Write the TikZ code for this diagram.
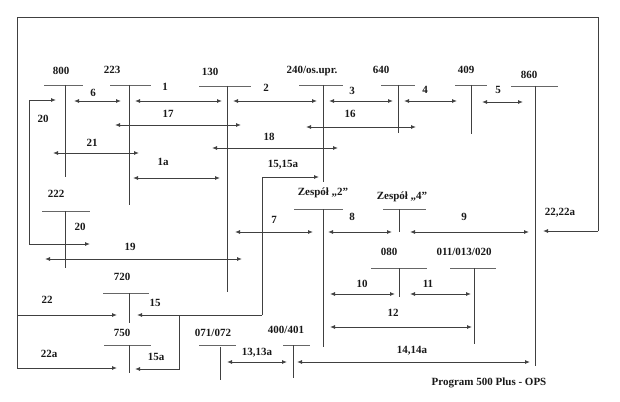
\documentclass[tikz,border=0pt]{standalone}
\usepackage{fontspec}
\setmainfont{Liberation Serif}
\usetikzlibrary{arrows.meta}
\begin{document}
\begin{tikzpicture}[x=1pt,y=-1pt,
  lbl/.style={font=\bfseries\fontsize{11}{12}\selectfont, inner sep=0pt, text=black!90},
  ln/.style={draw=black!75, line width=0.9pt},
  barln/.style={draw=black!60, line width=0.9pt},
  bi/.style={ln, {Latex[length=5pt,width=4pt]}-{Latex[length=5pt,width=4pt]}},
  tip/.style={ln, -{Latex[length=5pt,width=4pt]}}]
\useasboundingbox (0,0) rectangle (620,401);
\fill[white] (0,0) rectangle (620,401);

% ---------- outer frame with arrows 22, 22a, 22,22a
\coordinate (fTL) at (17,17);
\coordinate (fTR) at (598,17);
\coordinate (fR) at (598,231);
\coordinate (fBL) at (17,368);
\coordinate (t22) at (117,315);
\coordinate (t22a) at (117,368);
\coordinate (t2222a) at (543,231);
\draw[ln] (fR) -- (fTR) -- (fTL) -- (fBL);
\draw[tip] (fR) -- (t2222a);
\draw[tip] (17,315) -- (t22);
\draw[tip] (fBL) -- (t22a);

% ---------- headers: bars and stems
\draw[barln] (44,85) -- (83,85);   \draw[ln] (65,85) -- (65,177);
\draw[barln] (110,85) -- (151,85); \draw[ln] (129,85) -- (129,205);
\draw[barln] (199,86) -- (251,86); \draw[ln] (227,86) -- (227,292);
\draw[barln] (299,85) -- (343,85); \draw[ln] (323,85) -- (323,182);
\draw[barln] (381,85) -- (415,85); \draw[ln] (398,85) -- (398,133);
\draw[barln] (455,85) -- (487,85); \draw[ln] (471,85) -- (471,134);
\draw[barln] (511,86) -- (558,86); \draw[ln] (535,86) -- (535,366);
\draw[barln] (42,211) -- (90,211); \draw[ln] (65,211) -- (65,268);
\draw[barln] (103,293) -- (149,293); \draw[ln] (129,293) -- (129,323);
\draw[barln] (104,345) -- (151,345); \draw[ln] (129,345) -- (129,373);
\draw[barln] (199,345) -- (236,345); \draw[ln] (220,347) -- (220,380);
\draw[barln] (283,345) -- (310,345); \draw[ln] (293,345) -- (293,378);
\draw[barln] (294,209) -- (343,209); \draw[ln] (323,209) -- (323,347);
\draw[barln] (383,209) -- (426,209); \draw[ln] (399,209) -- (399,232);
\draw[barln] (371,268) -- (427,268); \draw[ln] (399,268) -- (399,297);
\draw[barln] (450,268) -- (496,268); \draw[ln] (474,268) -- (474,344);

% ---------- header labels
\node[lbl] (n800) at (61,71) {800};
\node[lbl] (n223) at (112,70) {223};
\node[lbl] (n130) at (210,72) {130};
\node[lbl] (n240) at (312,71) {240/os.upr.};
\node[lbl] (n640) at (381,70) {640};
\node[lbl] (n409) at (466,70) {409};
\node[lbl] (n860) at (529,75) {860};
\node[lbl] (n222) at (56,194) {222};
\node[lbl] (n720) at (122,277) {720};
\node[lbl] (n750) at (122,333) {750};
\node[lbl] (n071) at (213,333) {071/072};
\node[lbl] (n400) at (286,330) {400/401};
\node[lbl] (nZ2) at (323,193) {Zespół „2”};
\node[lbl] (nZ4) at (402,197) {Zespół „4”};
\node[lbl] (n080) at (389,252) {080};
\node[lbl] (n011) at (464,252) {011/013/020};
\node[lbl] (nprog) at (489,383) {Program 500 Plus - OPS};

% ---------- double arrows
\draw[bi] (74,101) -- (121,101);   \node[lbl] (l6) at (93,93) {6};
\draw[bi] (135,101) -- (222,101);  \node[lbl] (l1) at (165,87) {1};
\draw[bi] (233,101) -- (317,101);  \node[lbl] (l2) at (266,88) {2};
\draw[bi] (329,101) -- (393,101);  \node[lbl] (l3) at (352,91) {3};
\draw[bi] (404,101) -- (457,101);  \node[lbl] (l4) at (425,90) {4};
\draw[bi] (482,102) -- (523,102);  \node[lbl] (l5) at (498,90) {5};
\draw[bi] (115,125) -- (241,125);  \node[lbl] (l17) at (168,114) {17};
\draw[bi] (306,127) -- (416,127);  \node[lbl] (l16) at (350,114) {16};
\draw[bi] (212,148) -- (338,148);  \node[lbl] (l18) at (269,137) {18};
\draw[bi] (53,153) -- (139,153);   \node[lbl] (l21) at (92,143) {21};
\draw[bi] (133,178) -- (220,178);  \node[lbl] (l1a) at (163,162) {1a};
\draw[bi] (45,259) -- (242,259);   \node[lbl] (l19) at (130,247) {19};
\draw[bi] (235,232) -- (313,232);  \node[lbl] (l7) at (274,220) {7};
\draw[bi] (328,232) -- (392,232);  \node[lbl] (l8) at (352,217) {8};
\draw[bi] (410,232) -- (529,232);  \node[lbl] (l9) at (464,217) {9};
\draw[bi] (330,294) -- (395,294);  \node[lbl] (l10) at (362,284) {10};
\draw[bi] (410,294) -- (471,294);  \node[lbl] (l11) at (428,284) {11};
\draw[bi] (330,327) -- (472,327);  \node[lbl] (l12) at (393,313) {12};
\draw[bi] (227,362) -- (287,362);  \node[lbl] (l13) at (257,353) {13,13a};
\draw[bi] (297,362) -- (530,362);  \node[lbl] (l14) at (412,351) {14,14a};

% ---------- arrow 20 (loop on the left)
\coordinate (t20a) at (56,100);
\coordinate (t20b) at (90,244);
\draw[tip] (29,244) -- (29,100) -- (t20a);
\draw[tip] (29,244) -- (t20b);
\node[lbl] (l20a) at (43,119) {20};
\node[lbl] (l20b) at (80,227) {20};

% ---------- arrows 15,15a / 15 / 15a
\coordinate (j15) at (262,315);
\coordinate (j15a) at (179,315);
\coordinate (t1515a) at (319,177);
\coordinate (t15) at (137,315);
\coordinate (t15a) at (135,369);
\draw[tip] (j15) -- (262,177) -- (t1515a);
\draw[tip] (j15) -- (t15);
\draw[tip] (j15a) -- (179,369) -- (t15a);
\node[lbl] (l1515a) at (283,165) {15,15a};
\node[lbl] (l15) at (155,303) {15};
\node[lbl] (l15a) at (156,357) {15a};

% ---------- frame labels
\node[lbl] (l22) at (47,300) {22};
\node[lbl] (l22a) at (49,354) {22a};
\node[lbl] (l2222a) at (560,213) {22,22a};
\end{tikzpicture}
\end{document}
